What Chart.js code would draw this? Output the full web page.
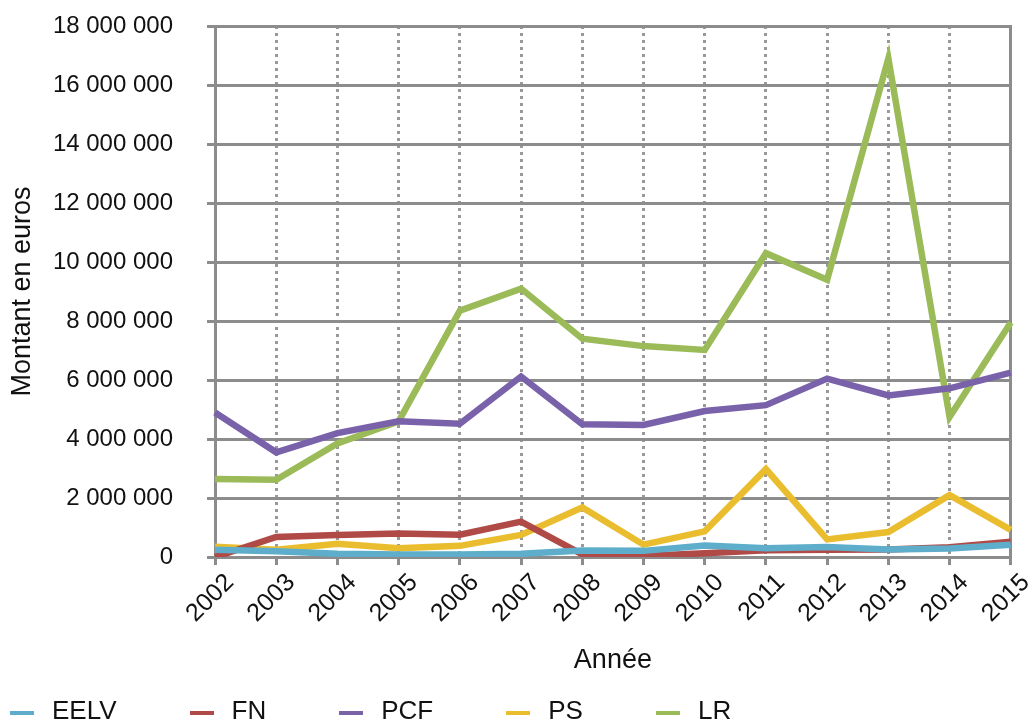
<!DOCTYPE html>
<html lang="fr">
<head>
<meta charset="utf-8">
<title>Montant en euros par parti</title>
<script src="https://cdn.jsdelivr.net/npm/chart.js@4.4.1/dist/chart.umd.min.js"></script>
<style>
    html, body { margin: 0; padding: 0; background: #fff; overflow: hidden; }
    #wrap { position: relative; width: 1035px; height: 722px; }
    #legend {
        position: absolute; left: 10px; top: 697px;
        display: flex; align-items: center; gap: 73px;
        font-family: "Liberation Sans", Arial, sans-serif; font-size: 26px; line-height: 26px; color: #111;
    }
    #legend .item { display: flex; align-items: center; }
    #legend .mark { width: 24px; height: 4px; margin: 5px 18px 0 0; }
</style>
</head>
<body>
<div id="wrap">
    <canvas id="line-chart" width="1035" height="722"></canvas>
    <div id="legend"></div>
</div>
<script>
// data (euros)
const years = ['2002', '2003', '2004', '2005', '2006', '2007', '2008', '2009', '2010', '2011', '2012', '2013', '2014', '2015'];
const eelv = [250000, 200000, 110000, 90000, 90000, 110000, 220000, 210000, 390000, 300000, 340000, 260000, 290000, 420000];
const fn   = [0, 680000, 750000, 800000, 760000, 1200000, 90000, 40000, 130000, 230000, 250000, 260000, 330000, 520000];
const pcf  = [4900000, 3550000, 4200000, 4600000, 4520000, 6120000, 4500000, 4480000, 4950000, 5150000, 6050000, 5480000, 5720000, 6250000];
const ps   = [350000, 250000, 450000, 300000, 380000, 750000, 1680000, 420000, 870000, 2980000, 600000, 850000, 2100000, 920000];
const lr   = [2650000, 2620000, 3850000, 4600000, 8350000, 9100000, 7400000, 7150000, 7020000, 10300000, 9400000, 16900000, 4750000, 7950000];
const yTicks = [0, 2000000, 4000000, 6000000, 8000000, 10000000, 12000000, 14000000, 16000000, 18000000];

const font = 'Liberation Sans, Arial, sans-serif';
const gridGrey = '#8c8c8c';
const textColor = '#111';

function spaced(v){
    return String(v).replace(/\B(?=(\d{3})+(?!\d))/g, ' ');
}

function serie(label, data, color){
    return {
        label: label,
        data: data,
        borderColor: color,
        backgroundColor: color,
        borderWidth: 6.5,
        pointRadius: 0,
        tension: 0,
        fill: false
    };
}

const ctx = document.getElementById('line-chart').getContext('2d');
const chart = new Chart(ctx, {
    type: 'line',
    data: {
        labels: years,
        datasets: [
            serie('EELV', eelv, '#5eaecb'),
            serie('FN', fn, '#b04a47'),
            serie('PCF', pcf, '#7a62aa'),
            serie('PS', ps, '#eabd2e'),
            serie('LR', lr, '#9bbb59')
        ]
    },
    options: {
        responsive: false,
        animation: false,
        layout: { padding: { top: 0, right: 4, bottom: 0, left: 0 } },
        plugins: {
            legend: { display: false },
            tooltip: { enabled: false }
        },
        scales: {
            x: {
                grid: { color: '#999', lineWidth: 3, tickLength: 8, tickColor: gridGrey, tickWidth: 3 },
                border: { display: true, color: gridGrey, width: 3, dash: [3, 4] },
                ticks: { color: textColor, font: { family: font, size: 25 }, minRotation: 45, maxRotation: 45, padding: 3, labelOffset: 15, autoSkip: false },
                title: { display: true, text: 'Année', color: textColor, font: { family: font, size: 27 }, padding: { top: 13, bottom: 45 } }
            },
            y: {
                min: 0,
                max: 18000000,
                afterBuildTicks: (scale) => { scale.ticks = yTicks.map(v => ({ value: v })); },
                afterFit: (scale) => {
                    scale.width = 215;
                    scale.paddingTop = 26;
                    scale.paddingBottom = 0;
                },
                grid: { color: gridGrey, lineWidth: 3, tickLength: 8, tickColor: gridGrey, tickWidth: 3 },
                border: { display: true, color: gridGrey, width: 3 },
                ticks: { color: textColor, font: { family: font, size: 24 }, padding: 34, callback: (v) => spaced(v) },
                title: { display: true, text: 'Montant en euros', color: textColor, font: { family: font, size: 27 }, padding: { top: 6, bottom: 0 } }
            },
            // right side of the frame
            y2: {
                position: 'right',
                min: 0,
                max: 18000000,
                grid: { drawOnChartArea: false, drawTicks: false },
                border: { display: true, color: gridGrey, width: 3 },
                ticks: { display: false }
            }
        }
    }
});

//html legend built from the datasets
const legend = document.getElementById('legend');
chart.data.datasets.forEach(function(ds){
    const item = document.createElement('span');
    item.className = 'item';
    const mark = document.createElement('span');
    mark.className = 'mark';
    mark.style.background = ds.borderColor;
    item.appendChild(mark);
    item.appendChild(document.createTextNode(ds.label));
    legend.appendChild(item);
});
</script>
</body>
</html>
